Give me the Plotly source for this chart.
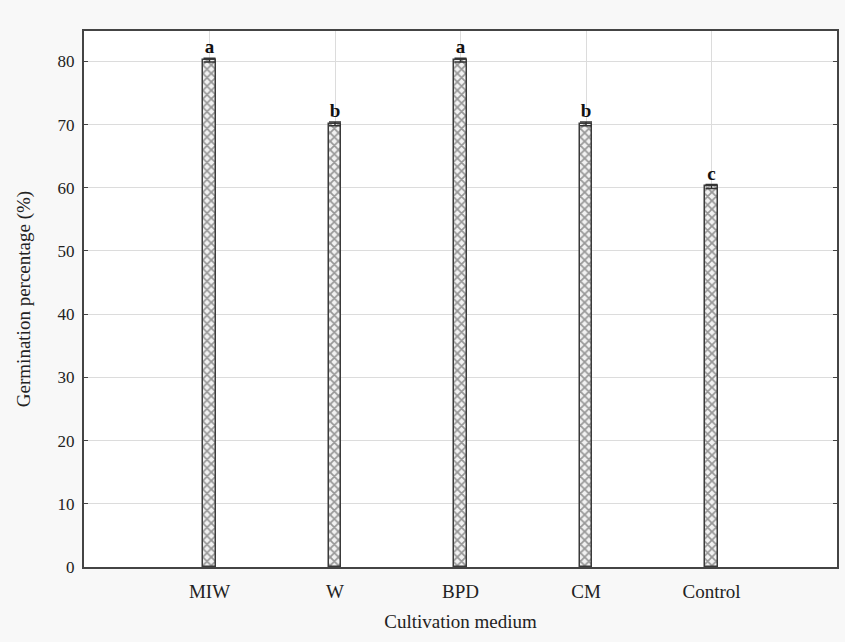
import plotly.graph_objects as go

categories = ["MIW", "W", "BPD", "CM", "Control"]
germination = [80.2, 70.1, 80.2, 70.1, 60.2]
errors = [0.3, 0.3, 0.3, 0.3, 0.3]
letters = ["a", "b", "a", "b", "c"]
y_ticks = [0, 10, 20, 30, 40, 50, 60, 70, 80]

FONT = "Liberation Serif, Times New Roman, serif"
xs = list(range(len(categories)))

fig = go.Figure()
fig.add_trace(go.Bar(
    x=xs, y=germination, width=0.1,
    marker=dict(color="white",
                line=dict(color="#3a3a3a", width=1.5),
                pattern=dict(shape="x", fgcolor="#3d3d3d", bgcolor="#f2f2f2",
                             size=6, solidity=0.5)),
    error_y=dict(type="data", array=errors, visible=True,
                 color="#333333", thickness=1.5, width=6),
    showlegend=False,
))
fig.add_trace(go.Scatter(
    x=xs, y=[g + e for g, e in zip(germination, errors)],
    mode="text", text=["<b>%s</b>" % l for l in letters],
    textposition="top center",
    textfont=dict(family=FONT, size=19, color="#111111"),
    showlegend=False, hoverinfo="skip",
))

fig.update_layout(
    width=845, height=642,
    margin=dict(l=84, r=6, t=31, b=75),
    paper_bgcolor="#f8f8f8", plot_bgcolor="white",
    font=dict(family=FONT, size=17, color="#222222"),
    bargap=0,
)
fig.update_xaxes(
    range=[-1, 5], tickmode="array", tickvals=xs, ticktext=categories,
    showgrid=True, gridcolor="#dcdcdc", gridwidth=1,
    showline=True, linecolor="#444444", linewidth=2, mirror=True,
    ticks="", zeroline=False, ticklabelstandoff=6,
    title=dict(text="Cultivation medium", font=dict(family=FONT, size=19), standoff=14),
    tickfont=dict(family=FONT, size=19),
)
fig.update_yaxes(
    range=[0, 84.8], tickmode="array", tickvals=y_ticks,
    showgrid=True, gridcolor="#dcdcdc", gridwidth=1,
    showline=True, linecolor="#444444", linewidth=2, mirror="ticks",
    ticks="inside", ticklen=4, tickcolor="#444444", zeroline=False,
    ticklabelstandoff=4,
    title=dict(text="Germination percentage (%)", font=dict(family=FONT, size=19), standoff=22),
    tickfont=dict(family=FONT, size=17),
)

fig.write_html("out.html")
